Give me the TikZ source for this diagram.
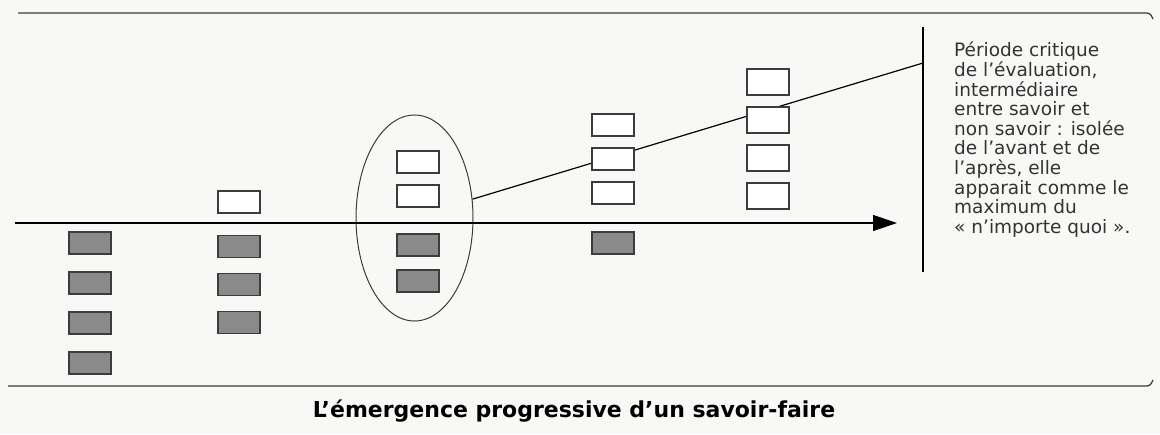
\documentclass[tikz,border=0pt]{standalone}
\usepackage{fontspec}
\setmainfont{DejaVu Sans}
\usetikzlibrary{arrows.meta,shapes.geometric,positioning}
\definecolor{boxgray}{RGB}{138,138,138}
\definecolor{inkgray}{RGB}{60,60,60}
\definecolor{paper}{RGB}{248,248,246}

\begin{document}
\begin{tikzpicture}[x=1pt,y=-1pt,>={Triangle[length=24pt,width=16pt]},node distance=40pt,
  blank/.style={draw=inkgray,line width=1.2pt,fill=white,minimum width=42pt,minimum height=22pt,inner sep=0pt},
  shaded/.style={blank,fill=boxgray},
  every text node part/.style={align=left}]
  \fill[paper] (0,0) rectangle (1160,434);
  \useasboundingbox (0,0) rectangle (1160,434);
  \draw[inkgray,line width=1.3pt,rounded corners=3pt] (18,13) -- (1150,13) -- (1153,19);
  \draw[inkgray,line width=1.3pt,rounded corners=3pt] (8,386) -- (1150,386) -- (1153,380);
  \node[ellipse,draw=inkgray,line width=1pt,minimum width=117pt,minimum height=206pt] (ell) at (414.5,218) {};
  \coordinate (vtop) at (923,27);
  \coordinate (vbot) at (923,272);
  \coordinate (vhit) at (923,63);
  \coordinate (ax0) at (15,223);
  \coordinate (ax1) at (897,223);
  \draw[line width=1.2pt] (vtop) -- (vbot);
  \draw[->,line width=1.2pt] (ax0) -- (ax1);
  \draw[line width=1.2pt] (ell.18) -- (vhit);
  \node[shaded] (d11) at (90,243) {};
  \node[shaded] (d12) [below of=d11] {};
  \node[shaded] (d13) [below of=d12] {};
  \node[shaded] (d14) [below of=d13] {};
  \node[blank]  (w21) at (239,202) {};
  \node[shaded] (d21) at (239,246.5) {};
  \node[shaded] (d22) [below of=d21,node distance=38pt] {};
  \node[shaded] (d23) [below of=d22,node distance=38pt] {};
  \node[blank]  (w31) at (418,162) {};
  \node[blank]  (w32) [below of=w31,node distance=34pt] {};
  \node[shaded] (d31) at (418,245) {};
  \node[shaded] (d32) [below of=d31,node distance=36pt] {};
  \node[blank]  (w41) at (613,125) {};
  \node[blank]  (w42) [below of=w41,node distance=34pt] {};
  \node[blank]  (w43) [below of=w42,node distance=34pt] {};
  \node[shaded] (d41) at (613,243) {};
  \node[blank,minimum height=26pt] (w51) at (768,82) {};
  \node[blank,minimum height=26pt] (w52) [below of=w51,node distance=38pt] {};
  \node[blank,minimum height=26pt] (w53) [below of=w52,node distance=38pt] {};
  \node[blank,minimum height=26pt] (w54) [below of=w53,node distance=38pt] {};
  \node[anchor=north west,inner sep=0pt,text=black!80,font=\fontsize{18.5}{19.6}\selectfont] (note) at (954,42) {Période critique\\ de l’évaluation,\\ intermédiaire\\ entre savoir et\\ non savoir : isolée\\ de l’avant et de\\ l’après, elle\\ apparait comme le\\ maximum du\\ «~n’importe quoi~».};
  \node[font=\bfseries\fontsize{22}{24}\selectfont] (title) at (574,411) {L’émergence progressive d’un savoir-faire};
\end{tikzpicture}
\end{document}
